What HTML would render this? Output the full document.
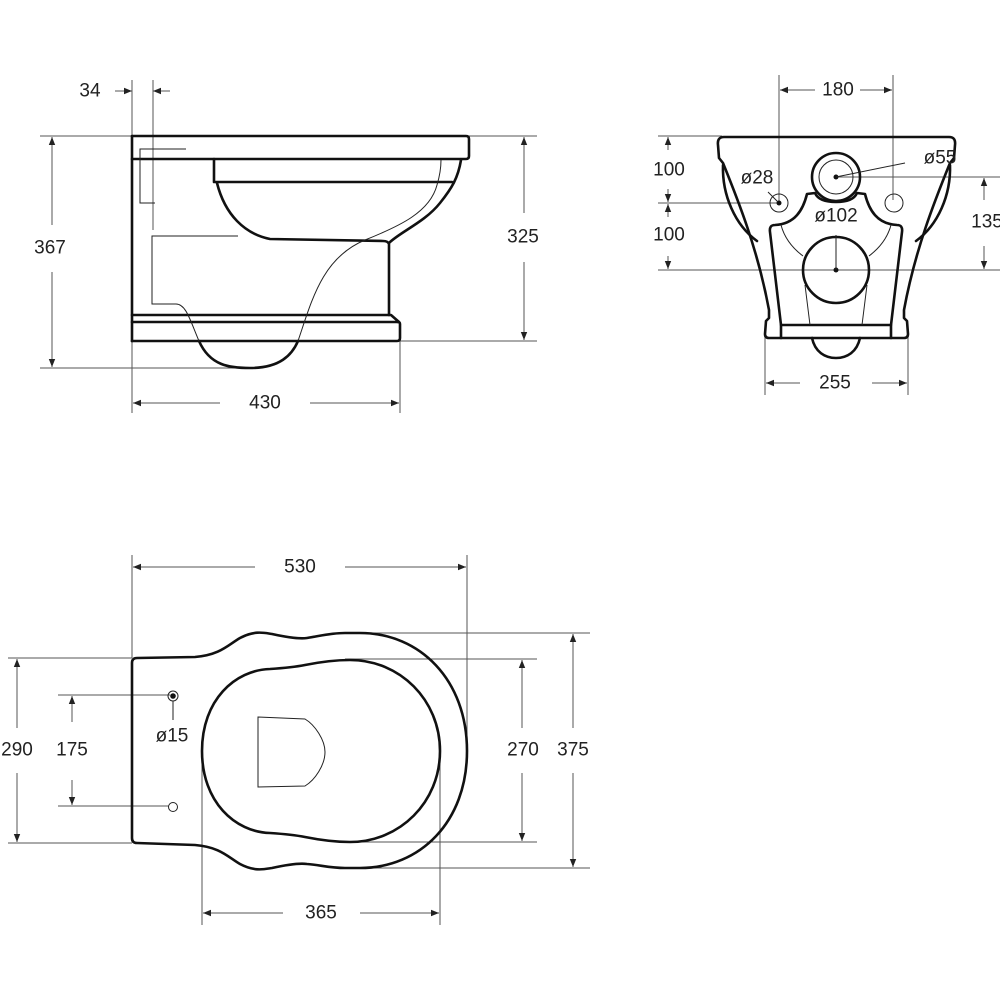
<!DOCTYPE html>
<html><head><meta charset="utf-8"><style>
html,body{margin:0;padding:0;background:#fff;}
svg{display:block;}
text{font-family:"Liberation Sans",sans-serif;font-size:19px;fill:#222;text-anchor:middle;dominant-baseline:central;}
.t{fill:none;stroke:#111;stroke-width:2.6;stroke-linejoin:round;stroke-linecap:round;}
.n{fill:none;stroke:#222;stroke-width:1;}
.d{fill:none;stroke:#555;stroke-width:1;}
</style></head><body>
<svg width="1000" height="1000" viewBox="0 0 1000 1000" xmlns="http://www.w3.org/2000/svg">
<defs>
<marker id="a" viewBox="0 0 10 10" refX="10" refY="5" markerWidth="10" markerHeight="8" markerUnits="userSpaceOnUse" orient="auto-start-reverse"><path d="M0,1 L10,5 L0,9 z" fill="#222"/></marker>
</defs>

<!-- ============ SIDE VIEW ============ -->
<!-- dimension lines -->
<line class="d" x1="132" y1="80" x2="132" y2="413"/>
<line class="d" x1="153" y1="80" x2="153" y2="230"/>
<line class="d" x1="115" y1="91" x2="132" y2="91" marker-end="url(#a)"/>
<line class="d" x1="170" y1="91" x2="153" y2="91" marker-end="url(#a)"/>
<text x="90" y="91">34</text>
<line class="d" x1="40" y1="136" x2="132" y2="136"/>
<line class="d" x1="40" y1="368" x2="250" y2="368"/>
<line class="d" x1="52" y1="225" x2="52" y2="137" marker-end="url(#a)"/>
<line class="d" x1="52" y1="272" x2="52" y2="367" marker-end="url(#a)"/>
<text x="50" y="248">367</text>
<line class="d" x1="468" y1="136" x2="537" y2="136"/>
<line class="d" x1="400" y1="341" x2="537" y2="341"/>
<line class="d" x1="524" y1="213" x2="524" y2="137" marker-end="url(#a)"/>
<line class="d" x1="524" y1="262" x2="524" y2="340" marker-end="url(#a)"/>
<text x="523" y="237">325</text>
<line class="d" x1="400" y1="325" x2="400" y2="413"/>
<line class="d" x1="220" y1="403" x2="133" y2="403" marker-end="url(#a)"/>
<line class="d" x1="310" y1="403" x2="399" y2="403" marker-end="url(#a)"/>
<text x="265" y="403">430</text>

<!-- outline -->
<path class="t" d="M132,136 L466,136 Q469,136 469,139 L469,156 Q469,159 466,159 L132,159"/>
<line class="t" x1="132" y1="136" x2="132" y2="341"/>
<path class="t" d="M214,159 L214,182 L452,182"/>
<path class="t" d="M461,160 C458,178 452,188 440,203 C425,222 400,232 389,243"/>
<path class="t" d="M217,183 C225,215 245,234 270,239 L383,241 Q388,241 389,244 L389,315"/>
<path class="t" d="M132,315 L391,315 L399,322 L132,322"/>
<path class="t" d="M132,341 L397,341 Q400,341 400,338 L400,324 Q400,322 398,322"/>
<path class="t" d="M199,341 C210,366 230,368 250,368 C280,368 292,355 298,341"/>
<!-- thin internal -->
<path class="n" d="M186,149 L140,149 L140,203 L155,203"/>
<path class="n" d="M238,236 L152,236 L152,304 L176,304 C186,304 190,320 199,341"/>
<path class="n" d="M298,341 C312,300 322,258 365,240 C400,226 430,212 437,185 C440,175 441,168 441,160"/>

<!-- ============ FRONT VIEW ============ -->
<line class="d" x1="779" y1="75" x2="779" y2="203"/>
<line class="d" x1="893" y1="75" x2="893" y2="200"/>
<line class="d" x1="815" y1="90" x2="780" y2="90" marker-end="url(#a)"/>
<line class="d" x1="860" y1="90" x2="892" y2="90" marker-end="url(#a)"/>
<text x="838" y="90">180</text>
<line class="d" x1="658" y1="136" x2="722" y2="136"/>
<line class="d" x1="658" y1="203" x2="779" y2="203"/>
<line class="d" x1="658" y1="270" x2="1000" y2="270"/>
<line class="d" x1="836" y1="177" x2="1000" y2="177"/>
<line class="d" x1="668" y1="150" x2="668" y2="137" marker-end="url(#a)"/>
<line class="d" x1="668" y1="189" x2="668" y2="202" marker-end="url(#a)"/>
<line class="d" x1="668" y1="217" x2="668" y2="204" marker-end="url(#a)"/>
<line class="d" x1="668" y1="256" x2="668" y2="269" marker-end="url(#a)"/>
<text x="669" y="170">100</text>
<text x="669" y="235">100</text>
<line class="d" x1="984" y1="200" x2="984" y2="178" marker-end="url(#a)"/>
<line class="d" x1="984" y1="246" x2="984" y2="269" marker-end="url(#a)"/>
<text x="987" y="222">135</text>
<line class="d" x1="765" y1="330" x2="765" y2="395"/>
<line class="d" x1="908" y1="330" x2="908" y2="395"/>
<line class="d" x1="800" y1="383" x2="766" y2="383" marker-end="url(#a)"/>
<line class="d" x1="872" y1="383" x2="907" y2="383" marker-end="url(#a)"/>
<text x="835" y="383">255</text>

<!-- body -->
<path class="t" d="M724,137 L949,137 Q956,137 955,145 L954,158 L950,163
 C935,200 915,250 904,310 L904,318 L907,321 L908,334 Q908,338 904,338 L769,338 Q765,338 765,334 L766,321 L769,318 L769,310
 C758,250 738,200 723,163 L719,158 L718,145 Q717,137 724,137 Z"/>
<!-- side bulges -->
<path class="t" d="M723,165 C722,195 735,225 757,241"/>
<path class="t" d="M950,165 C951,195 938,225 916,241"/>
<!-- foot bar -->
<path class="t" d="M781,338 L781,325 L891,325 L891,338"/>
<path class="t" d="M812,338 C815,352 825,358 836,358 C847,358 857,352 860,338"/>
<!-- inner cusp shape -->
<path class="t" d="M781,325 L770,232 Q769,225 775,225 C795,224 803,210 807,194 L815,193 C818,200 827,202 836,202 C845,202 854,200 857,193 L865,194 C869,210 877,224 897,225 Q903,225 902,232 L891,325"/>
<path class="n" d="M781,225 C785,240 795,250 803,256"/>
<path class="n" d="M891,225 C887,240 877,250 869,256"/>
<path class="n" d="M805,285 L810,325 M867,285 L862,325"/>
<!-- holes -->
<circle class="t" cx="836" cy="177" r="24"/>
<circle class="n" cx="836" cy="177" r="17"/>
<circle cx="836" cy="177" r="2.5" fill="#111"/>
<circle class="n" cx="779" cy="203" r="9"/>
<circle cx="779" cy="203" r="2.5" fill="#111"/>
<circle class="n" cx="894" cy="203" r="9"/>
<circle class="t" cx="836" cy="270" r="33" fill="#fff"/>
<circle cx="836" cy="270" r="2.5" fill="#111"/>
<line class="n" x1="836" y1="235" x2="836" y2="270"/>
<line class="n" x1="836" y1="177" x2="905" y2="163"/>
<line class="n" x1="768" y1="192" x2="778" y2="202"/>
<text x="940" y="158">ø55</text>
<text x="757" y="178">ø28</text>
<text x="836" y="216">ø102</text>

<!-- ============ TOP VIEW ============ -->
<line class="d" x1="132" y1="555" x2="132" y2="658"/>
<line class="d" x1="467" y1="555" x2="467" y2="750"/>
<line class="d" x1="255" y1="567" x2="133" y2="567" marker-end="url(#a)"/>
<line class="d" x1="345" y1="567" x2="466" y2="567" marker-end="url(#a)"/>
<text x="300" y="567">530</text>
<line class="d" x1="8" y1="658" x2="132" y2="658"/>
<line class="d" x1="8" y1="843" x2="132" y2="843"/>
<line class="d" x1="17" y1="728" x2="17" y2="659" marker-end="url(#a)"/>
<line class="d" x1="17" y1="773" x2="17" y2="842" marker-end="url(#a)"/>
<text x="17" y="750">290</text>
<line class="d" x1="58" y1="695" x2="170" y2="695"/>
<line class="d" x1="58" y1="806" x2="169" y2="806"/>
<line class="d" x1="72" y1="722" x2="72" y2="696" marker-end="url(#a)"/>
<line class="d" x1="72" y1="780" x2="72" y2="805" marker-end="url(#a)"/>
<text x="72" y="750">175</text>
<line class="d" x1="345" y1="659" x2="537" y2="659"/>
<line class="d" x1="345" y1="842" x2="537" y2="842"/>
<line class="d" x1="522" y1="728" x2="522" y2="660" marker-end="url(#a)"/>
<line class="d" x1="522" y1="773" x2="522" y2="841" marker-end="url(#a)"/>
<text x="523" y="750">270</text>
<line class="d" x1="355" y1="633" x2="590" y2="633"/>
<line class="d" x1="355" y1="868" x2="590" y2="868"/>
<line class="d" x1="573" y1="728" x2="573" y2="634" marker-end="url(#a)"/>
<line class="d" x1="573" y1="773" x2="573" y2="867" marker-end="url(#a)"/>
<text x="573" y="750">375</text>
<line class="d" x1="202" y1="751" x2="202" y2="925"/>
<line class="d" x1="440" y1="751" x2="440" y2="925"/>
<line class="d" x1="283" y1="913" x2="203" y2="913" marker-end="url(#a)"/>
<line class="d" x1="360" y1="913" x2="439" y2="913" marker-end="url(#a)"/>
<text x="321" y="913">365</text>

<!-- outer seat -->
<path class="t" d="M137,658 L195,657 C220,655 228,645 240,638 C255,630 265,633 272,634 C290,638 300,639 307,638 C320,636 330,633 345,633 L360,633
 C420,633 467,680 467,751 C467,822 420,868 360,868 L345,868 C330,868 320,865 307,864 C300,863 290,864 272,868 C265,869 255,872 240,864 C228,857 220,847 195,845 L137,843 Q132,843 132,838 L132,663 Q132,658 137,658 Z"/>
<!-- inner -->
<path class="t" d="M202,751 C202,700 235,670 270,669 C285,668 295,667 305,665 C320,662 335,660 350,660 C400,660 440,700 440,751 C440,802 400,842 350,842 C335,842 320,840 305,837 C295,835 285,834 270,833 C235,832 202,802 202,751 Z"/>
<!-- D shape -->
<path class="n" d="M258,717 L305,719 C315,725 325,740 325,752 C325,765 315,780 305,786 L258,787 Z"/>
<!-- holes -->
<circle class="n" cx="173" cy="696" r="5"/>
<circle cx="173" cy="696" r="2.8" fill="#111"/>
<circle class="n" cx="173" cy="807" r="4.5"/>
<line class="n" x1="173" y1="701" x2="173" y2="720"/>
<text x="172" y="736">ø15</text>
</svg>
</body></html>
